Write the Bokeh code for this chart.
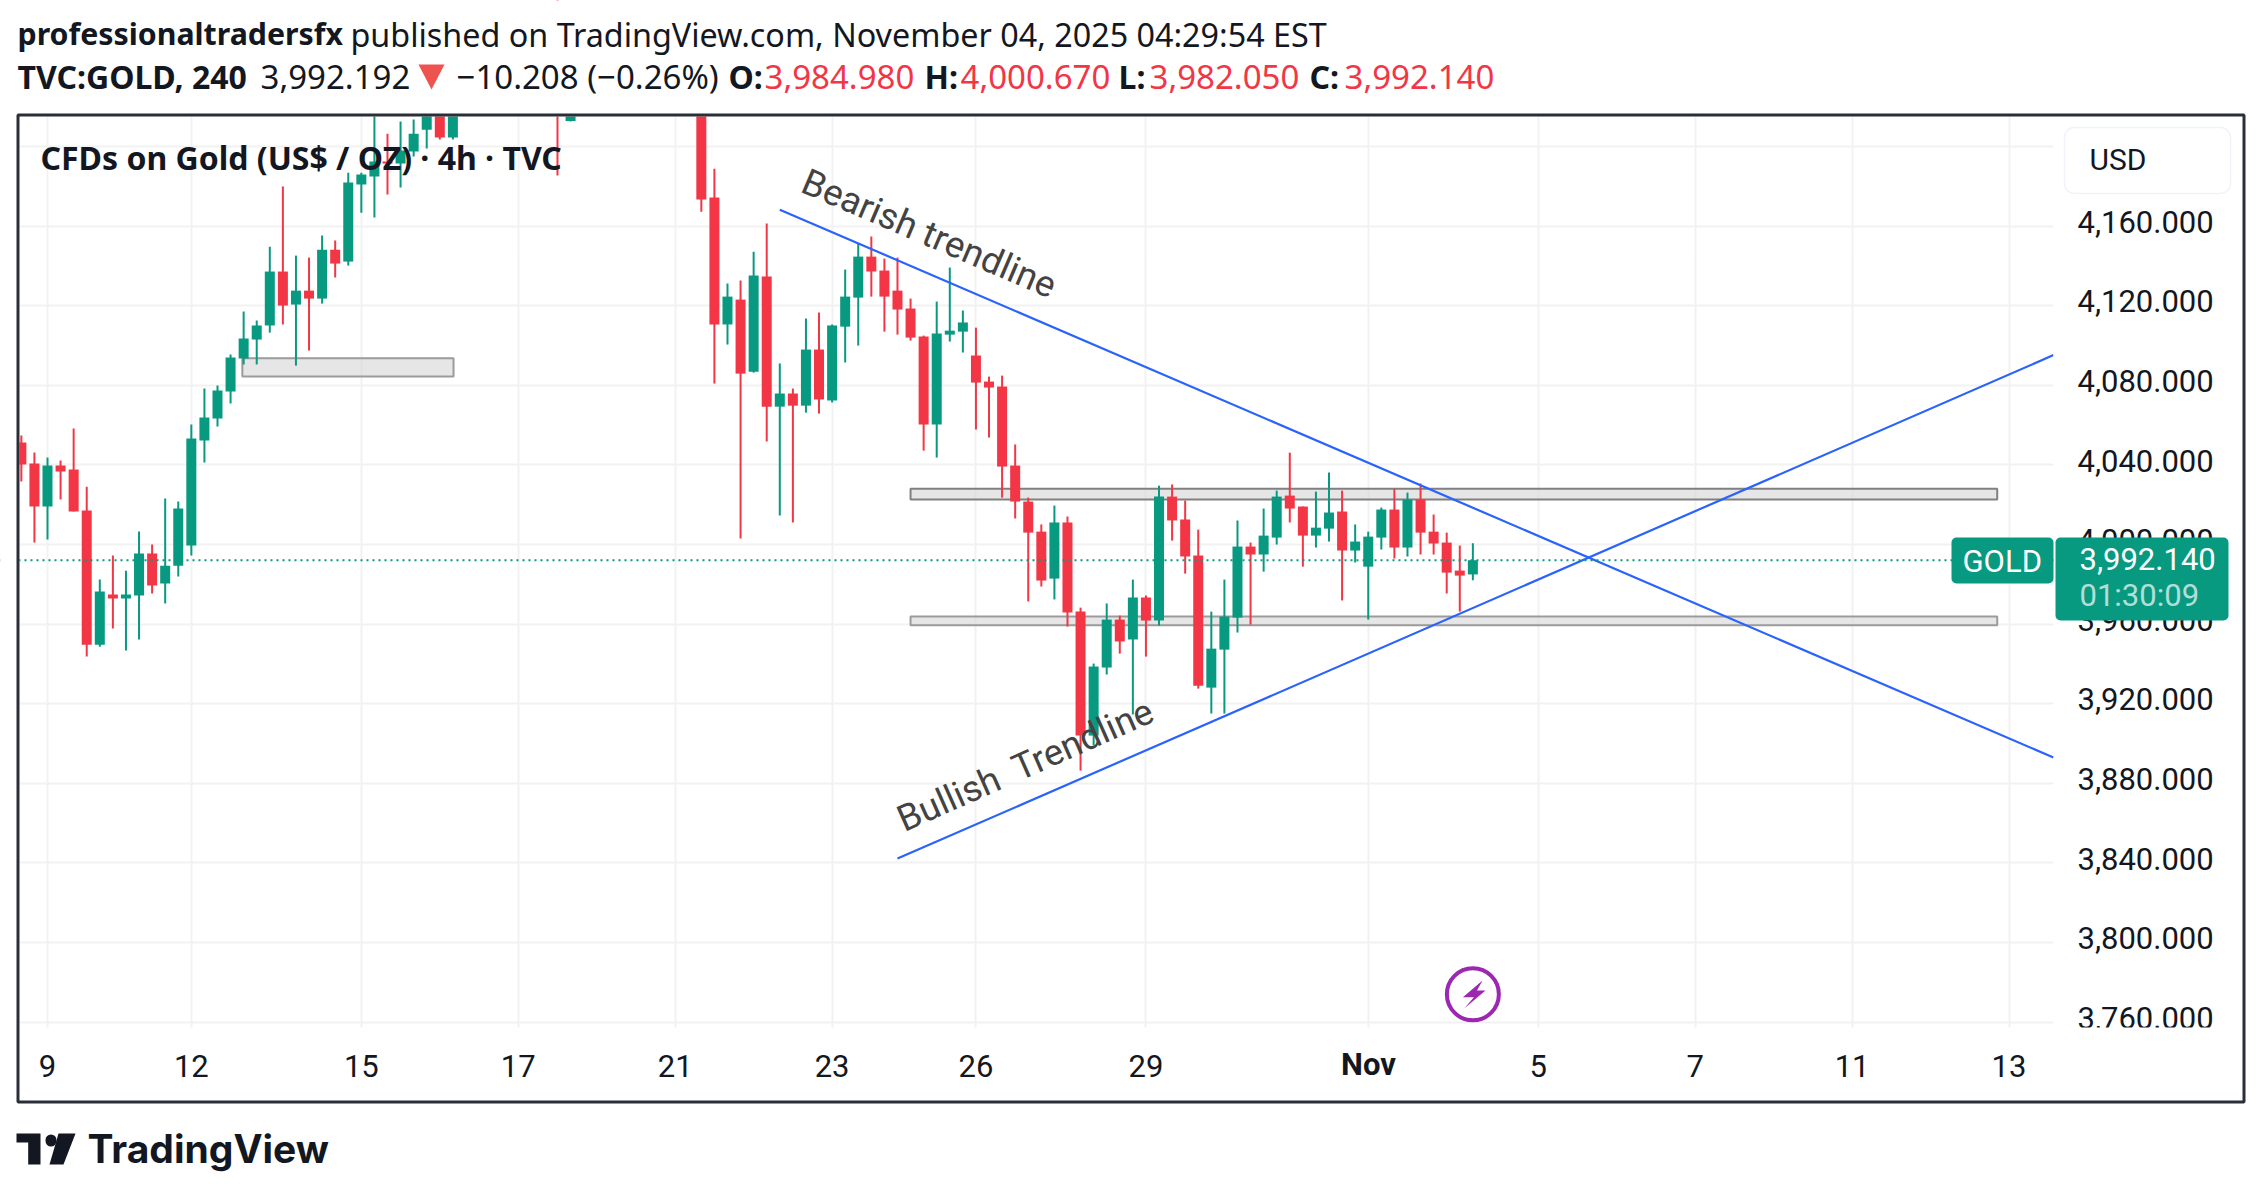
from bokeh.plotting import figure
from bokeh.models import (BoxAnnotation, ColumnDataSource, FixedTicker, Label, LinearAxis,
                          NumeralTickFormatter, PolyAnnotation, Range1d, Span)
from bokeh.embed import file_html
from bokeh.resources import INLINE

# 4h candles, x is the bar number counted from the "9" tick
# bars 32-38 and 41-49 sit above the visible price range
bar_index = list(range(-2, 32)) + [39, 40] + list(range(50, 110))
opens = [4051.3, 4040.7, 4019.1, 4039.7, 4037.7, 4017.1, 3949.7, 3974.9, 3972.9, 3974.4,
         3995.5, 3980.4, 3989.4, 3999.5, 4052.3, 4063.3, 4076.9, 4093.5, 4103.0, 4110.1,
         4137.2, 4120.6, 4127.6, 4123.6, 4148.2, 4142.2, 4180.9, 4184.9, 4192.5, 4191.5,
         4197.5, 4208.5, 4232.0, 4204.5,
         4260.0, 4212.8,
         4225.0, 4174.4, 4110.6, 4123.1, 4086.9, 4134.7, 4069.3, 4075.9, 4069.8, 4098.0,
         4072.4, 4109.5, 4124.1, 4144.7, 4137.7, 4127.6, 4118.6, 4104.5, 4060.3, 4105.5,
         4107.0, 4095.0, 4081.9, 4079.4, 4039.7, 4021.6, 4006.5, 3982.9, 4011.1, 3966.3,
         3904.0, 3938.2, 3962.3, 3952.3, 3973.4, 3961.8, 4024.1, 4012.6, 3994.5, 3928.1,
         3947.2, 3963.3, 3999.0, 3995.0, 4003.5, 4024.6, 4019.1, 4004.5, 4008.0, 4016.6,
         3997.0, 3988.9, 4003.5, 4017.6, 3998.5, 4022.6, 4006.5, 4001.0, 3986.9, 3984.98]
highs = [4054.8, 4046.2, 4043.7, 4042.2, 4058.3, 4029.1, 3982.4, 3994.5, 3986.9, 4006.5,
         4000.0, 4023.1, 4021.6, 4060.3, 4078.4, 4079.9, 4095.5, 4117.1, 4112.6, 4149.7,
         4179.9, 4145.2, 4144.2, 4155.3, 4152.8, 4186.9, 4186.8, 4216.0, 4206.5, 4212.6,
         4213.6, 4232.0, 4240.0, 4245.0,
         4280.0, 4220.0,
         4235.0, 4188.9, 4131.2, 4132.7, 4147.2, 4161.3, 4091.0, 4078.4, 4113.6, 4116.6,
         4110.6, 4138.2, 4151.3, 4154.8, 4143.7, 4144.2, 4123.6, 4105.0, 4122.1, 4139.2,
         4117.6, 4109.0, 4084.4, 4084.9, 4050.3, 4023.6, 4010.1, 4019.6, 4014.1, 3968.3,
         3940.2, 3970.4, 3964.3, 3982.4, 3974.4, 4029.6, 4030.2, 4022.1, 4007.5, 3966.3,
         3982.4, 4012.1, 4001.0, 4018.1, 4027.1, 4046.2, 4019.1, 4026.6, 4036.2, 4027.1,
         4010.1, 4006.5, 4018.6, 4028.1, 4026.1, 4030.7, 4015.1, 4006.0, 3999.5, 4000.67]
lows = [4031.7, 4001.0, 4002.5, 4022.6, 4016.6, 3943.7, 3948.7, 3957.8, 3946.7, 3952.3,
        3975.4, 3970.4, 3983.9, 3994.5, 4041.2, 4059.3, 4070.9, 4090.5, 4090.5, 4106.5,
        4110.6, 4089.9, 4097.5, 4121.1, 4134.2, 4140.2, 4166.8, 4164.3, 4175.9, 4179.4,
        4195.0, 4199.0, 4203.5, 4203.5,
        4185.4, 4212.6,
        4167.3, 4080.9, 4100.5, 4003.0, 4086.4, 4051.8, 4014.6, 4011.1, 4066.3, 4065.8,
        4071.4, 4091.5, 4100.0, 4124.6, 4107.0, 4105.5, 4102.5, 4047.2, 4043.7, 4102.0,
        4096.5, 4057.8, 4053.8, 4023.6, 4013.1, 3971.4, 3978.9, 3972.4, 3958.8, 3886.4,
        3899.0, 3934.7, 3945.2, 3914.6, 3943.7, 3959.3, 4002.0, 3985.4, 3927.6, 3915.1,
        3915.1, 3955.8, 3959.8, 3986.4, 4000.0, 4011.1, 3988.9, 3998.5, 4001.5, 3971.9,
        3991.0, 3962.3, 3997.5, 3993.0, 3994.0, 3995.0, 3995.0, 3975.4, 3966.3, 3982.05]
closes = [4040.2, 4019.1, 4039.7, 4036.7, 4016.6, 3949.7, 3976.4, 3972.9, 3974.9, 3995.5,
          3979.4, 3989.4, 4018.1, 4053.3, 4063.8, 4077.4, 4094.0, 4103.5, 4110.1, 4137.2,
          4120.1, 4127.6, 4123.6, 4148.2, 4141.2, 4181.9, 4185.9, 4192.5, 4191.5, 4198.0,
          4206.5, 4225.0, 4204.5, 4236.0,
          4240.0, 4216.0,
          4173.4, 4110.6, 4124.6, 4085.9, 4135.2, 4069.3, 4075.9, 4069.8, 4098.0, 4072.9,
          4110.1, 4124.6, 4144.7, 4137.2, 4124.6, 4118.1, 4104.0, 4060.3, 4106.0, 4107.5,
          4111.6, 4081.4, 4078.9, 4039.2, 4021.6, 4006.0, 3981.9, 4011.1, 3965.8, 3904.0,
          3938.7, 3962.3, 3951.3, 3973.4, 3961.8, 4024.1, 4012.1, 3994.0, 3929.1, 3947.7,
          3963.8, 3999.0, 3995.0, 4004.5, 4024.1, 4018.1, 4004.5, 4008.5, 4016.1, 3997.0,
          4001.5, 4004.0, 4017.6, 3998.5, 4022.6, 4006.0, 4000.5, 3985.9, 3984.4, 3992.14]

last_price = 3992.14

# drawings on the chart
bearish_x = [56.0, 153.4]
bearish_y = [4168.3, 3893.0]
bullish_x = [65.0, 153.4]
bullish_y = [3842.2, 4095.2]
zone_left = [14.9, 66.0, 66.0]
zone_right = [31.05, 149.1, 149.1]
zone_top = [4093.6, 4028.1, 3963.8]
zone_bottom = [4084.4, 4022.6, 3959.4]
zone_line = ["#9b9b9b", "#808080", "#9b9b9b"]

# axes
time_ticks = [0, 11, 24, 36, 48, 60, 71, 84, 101, 114, 126, 138, 150]
time_labels = ["9", "12", "15", "17", "21", "23", "26", "29", "", "5", "7", "11", "13"]
price_ticks = [3760, 3800, 3840, 3880, 3920, 3960, 4000, 4040, 4080, 4120, 4160]
price_grid = price_ticks + [4200]

GREEN = "#089981"
RED = "#f23645"
INK = "#131722"
BLUE = "#2962ff"
FRAME = "#2a2e39"
WHITE = "#ffffff"

# the plot frame fills the whole page, annotations outside the frame get cut off otherwise.
# white boxes further down do the clipping to the chart pane (x 19-2053, y 116-1027)
p = figure(width=2255, height=1190, output_backend="svg", toolbar_location=None,
           x_range=(-3.594, 168.85), y_range=(3675.4, 4273.4),
           x_axis_location=None, y_axis_location=None,
           min_border_left=0, min_border_right=0, min_border_top=0, min_border_bottom=0)
p.outline_line_color = None

# labels on TradingView sit a little above their gridlines, so the axis gets its own range
p.extra_y_ranges = {"labels": Range1d(3673.2, 4271.2)}
price_axis = LinearAxis(y_range_name="labels", ticker=FixedTicker(ticks=price_ticks),
                        formatter=NumeralTickFormatter(format="0,0.000"), fixed_location=153.4)
time_axis = LinearAxis(ticker=FixedTicker(ticks=time_ticks), fixed_location=3757.3,
                       major_label_overrides=dict(zip(time_ticks, time_labels)))
p.add_layout(price_axis, "right")
p.add_layout(time_axis, "below")

p.xgrid.ticker = FixedTicker(ticks=time_ticks)
p.ygrid.ticker = FixedTicker(ticks=price_grid)
p.grid.grid_line_color = "#f2f2f3"
p.grid.grid_line_width = 2
for ax in (time_axis, price_axis):
    ax.axis_line_color = None
    ax.major_tick_line_color = None
    ax.minor_tick_line_color = None
    ax.major_label_text_font = "Roboto"
    ax.major_label_text_font_size = "31px"
    ax.major_label_text_color = INK
    ax.level = "overlay"
time_axis.major_label_standoff = 21
price_axis.major_label_standoff = 18


def text(s, x, y, size=33, bold=False, color=INK, font="Noto Sans", align="left", alpha=1.0):
    p.add_layout(Label(x=x, y=y, x_units="canvas", y_units="canvas", text=s,
                       text_font=font, text_font_size=f"{size}px", text_color=color,
                       text_font_style="bold" if bold else "normal", text_align=align,
                       text_baseline="middle", text_alpha=alpha, level="overlay"))


def box(l, r, t, b, fill=None, line=None, width=0, radius=0, level="overlay"):
    p.add_layout(BoxAnnotation(left=l, right=r, top=t, bottom=b,
                               left_units="canvas", right_units="canvas",
                               top_units="canvas", bottom_units="canvas",
                               fill_color=fill, fill_alpha=1 if fill else 0,
                               line_color=line, line_width=width, line_alpha=1 if line else 0,
                               border_radius=radius, level=level))


def poly(xs, ys, color):
    p.add_layout(PolyAnnotation(xs=xs, ys=ys, xs_units="canvas", ys_units="canvas",
                                fill_color=color, fill_alpha=1, line_color=None,
                                level="overlay"))


# zones sit under the candles
p.quad(left=zone_left, right=zone_right, top=zone_top, bottom=zone_bottom,
       fill_color="#d6d6d6", fill_alpha=0.6, line_color=zone_line, line_width=2)

candles = ColumnDataSource(dict(
    x=bar_index, high=highs, low=lows,
    top=[max(o, c) for o, c in zip(opens, closes)],
    bottom=[min(o, c) for o, c in zip(opens, closes)],
    color=[GREEN if c >= o else RED for o, c in zip(opens, closes)],
))
p.segment(x0="x", y0="low", x1="x", y1="high", color="color", line_width=2, source=candles)
p.vbar(x="x", top="top", bottom="bottom", width=0.765, fill_color="color", line_color=None,
       source=candles)

p.line(bearish_x, bearish_y, line_color=BLUE, line_width=2.2)
p.line(bullish_x, bullish_y, line_color=BLUE, line_width=2.2)

# last bar marker
p.scatter([109], [3774.0], size=52, marker="circle", fill_color=None, line_color="#9c27b0",
          line_width=4)
poly([1482, 1462.4, 1473.4, 1464, 1485, 1476.5], [980, 996.7, 996.7, 1007.7, 990, 990], "#9c27b0")

p.add_layout(Span(location=last_price, dimension="width", line_color=GREEN, line_width=2,
                  line_dash=[2, 4], level="guide"))

p.add_layout(Label(x=57.2, y=4173.4, text="Bearish trendline", angle=-23.2, angle_units="deg",
                   text_font="Roboto", text_font_size="36.5px", text_color="#434343", level="guide"))
p.add_layout(Label(x=65.8, y=3851.3, text="Bullish\u00a0 Trendline", angle=23.9, angle_units="deg",
                   text_font="Roboto", text_font_size="36.5px", text_color="#434343", level="guide"))

# everything outside the pane goes white again
box(0, 2255, 0, 116, fill=WHITE, level="annotation")
box(0, 2255, 1027, 1190, fill=WHITE, level="annotation")
box(0, 19, 0, 1190, fill=WHITE, level="annotation")
box(2053, 2255, 0, 1190, fill=WHITE, level="annotation")

# price axis cover: the lowest label is cut by the pane edge
box(2054, 2240, 1027, 1098, fill=WHITE)

# frame round chart and axes
box(17.5, 2243.5, 114.5, 1101.5, line=FRAME, width=3)

# USD tag and last price tags
box(2064, 2230, 127, 193, fill=WHITE, line="#f0f3fa", width=1.5, radius=10)
text("USD", 2089, 159, size=30, font="Roboto")
box(1951, 2053, 537, 583, fill=GREEN, radius=5)
box(2055, 2228, 537, 620, fill=GREEN, radius=5)
text("GOLD", 1962, 561, size=31, color=WHITE, font="Roboto")
text("3,992.140", 2079, 558, size=31, color=WHITE, font="Roboto")
text("01:30:09", 2079, 595, size=31, color=WHITE, font="Roboto", alpha=0.7)

text("Nov", 1368, 1064, size=31, bold=True, font="Roboto", align="center")
text("CFDs on Gold (US$ / OZ) \u00b7 4h \u00b7 TVC", 40, 157, size=32, bold=True)

# header lines
text("professionaltradersfx", 17, 33, size=30.3, bold=True)
text("published on TradingView.com, November 04, 2025 04:29:54 EST", 350, 33, size=32.3)
text("TVC:GOLD, 240", 17, 76, size=32, bold=True)
text("3,992.192", 260, 76)
poly([418, 444, 431], [64, 64, 89], "#ef5350")
text("\u221210.208 (\u22120.26%)", 456, 76)
text("O:", 728, 76, size=32, bold=True)
text("3,984.980", 764, 76, color=RED)
text("H:", 924, 76, size=32, bold=True)
text("4,000.670", 960, 76, color=RED)
text("L:", 1118, 76, size=32, bold=True)
text("3,982.050", 1149, 76, color=RED)
text("C:", 1309, 76, size=32, bold=True)
text("3,992.140", 1344, 76, color=RED)

# TradingView logo
poly([16, 40, 40, 27.7, 27.7, 16], [1133, 1133, 1164, 1164, 1142, 1142], INK)
box(45, 56, 1134, 1146, fill=INK, radius=6)
poly([58, 75, 63, 49], [1133, 1133, 1164, 1164], INK)
text("TradingView", 87, 1148, size=39, bold=True, font="Inter")

open("out.html", "w").write(file_html(p, INLINE))
